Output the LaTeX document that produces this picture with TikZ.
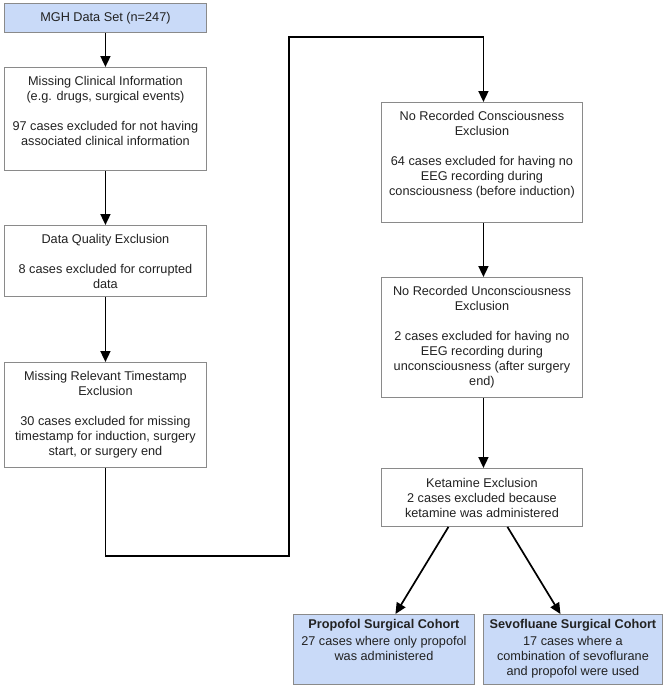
\documentclass[tikz,border=0pt]{standalone}
\usepackage{fontspec}
\setmainfont{Liberation Sans}
\usetikzlibrary{arrows.meta}
\definecolor{boxblue}{HTML}{C9DAF8}
\definecolor{boxgray}{HTML}{8A8A8A}
\definecolor{txtgray}{HTML}{222222}
\tikzset{
  box/.style={draw=boxgray, line width=0.9pt, fill=white, inner sep=0pt, anchor=north west},
  bluebox/.style={box, fill=boxblue},
  txt/.style={inner sep=0pt, anchor=north, align=center, text=txtgray, font=\fontsize{12.7}{15}\selectfont},
  arr/.style={line width=1.7pt, -{Triangle[width=10pt,length=11pt]}},
  ln/.style={line width=1.7pt}
}
\begin{document}
\begin{tikzpicture}[x=1pt,y=-1pt]
\useasboundingbox (0,0) rectangle (666,689);
% left column
\node[bluebox, minimum width=202pt, minimum height=29pt] (b1) at (4,3) {};
\node[txt, anchor=center] (t1) at (b1.center) {MGH Data Set (n=247)};
\node[box, minimum width=202pt, minimum height=103pt] (b2) at (4,67) {};
\node[txt] (t2) at ([yshift=-8pt]b2.north) {\strut Missing Clinical Information\\(e.g. drugs, surgical events)\\[15pt]97 cases excluded for not having\\associated clinical information};
\node[box, minimum width=202pt, minimum height=71pt] (b3) at (4,225) {};
\node[txt] (t3) at ([yshift=-8pt]b3.north) {\strut Data Quality Exclusion\\[15pt]8 cases excluded for corrupted\\data};
\node[box, minimum width=202pt, minimum height=105pt] (b4) at (4,362) {};
\node[txt] (t4) at ([yshift=-8pt]b4.north) {\strut Missing Relevant Timestamp\\Exclusion\\[15pt]30 cases excluded for missing\\timestamp for induction, surgery\\start, or surgery end};
% right column
\node[box, minimum width=201pt, minimum height=120pt] (b5) at (381,102) {};
\node[txt] (t5) at ([yshift=-8pt]b5.north) {\strut No Recorded Consciousness\\Exclusion\\[15pt]64 cases excluded for having no\\EEG recording during\\consciousness (before induction)};
\node[box, minimum width=201pt, minimum height=120pt] (b6) at (381,277) {};
\node[txt] (t6) at ([yshift=-8pt]b6.north) {\strut No Recorded Unconsciousness\\Exclusion\\[15pt]2 cases excluded for having no\\EEG recording during\\unconsciousness (after surgery\\end)};
\node[box, minimum width=201pt, minimum height=58pt] (b7) at (381,468) {};
\node[txt] (t7) at ([yshift=-9pt]b7.north) {\strut Ketamine Exclusion\\2 cases excluded because\\ketamine was administered};
% cohorts
\node[bluebox, minimum width=181pt, minimum height=70pt] (bp) at (293,614) {};
\node[txt] (tp) at ([yshift=-4pt]bp.north) {\strut\textbf{Propofol Surgical Cohort}\\[2pt]27 cases where only propofol\\was administered};
\node[bluebox, minimum width=179pt, minimum height=70pt] (bs) at (483,614) {};
\node[txt] (ts) at ([yshift=-4pt]bs.north) {\strut\textbf{Sevofluane Surgical Cohort}\\[2pt]17 cases where a\\combination of sevoflurane\\and propofol were used};
% connectors
\draw[arr] (b1.south) -- (b2.north);
\draw[arr] (b2.south) -- (b3.north);
\draw[arr] (b3.south) -- (b4.north);
\coordinate (j1) at (289,556);
\coordinate (j2) at (289,37);
\draw[arr] (b4.south) |- (j1) -- (j2) -| ([xshift=1.5pt]b5.north);
\draw[arr] ([xshift=1.5pt]b5.south) -- ([xshift=1.5pt]b6.north);
\draw[arr] ([xshift=1.5pt]b6.south) -- ([xshift=1.5pt]b7.north);
\draw[arr] ([xshift=-33.5pt]b7.south) -- ([xshift=11.5pt]bp.north);
\draw[arr] ([xshift=25.5pt]b7.south) -- ([xshift=-12.5pt]bs.north);
\end{tikzpicture}
\end{document}
